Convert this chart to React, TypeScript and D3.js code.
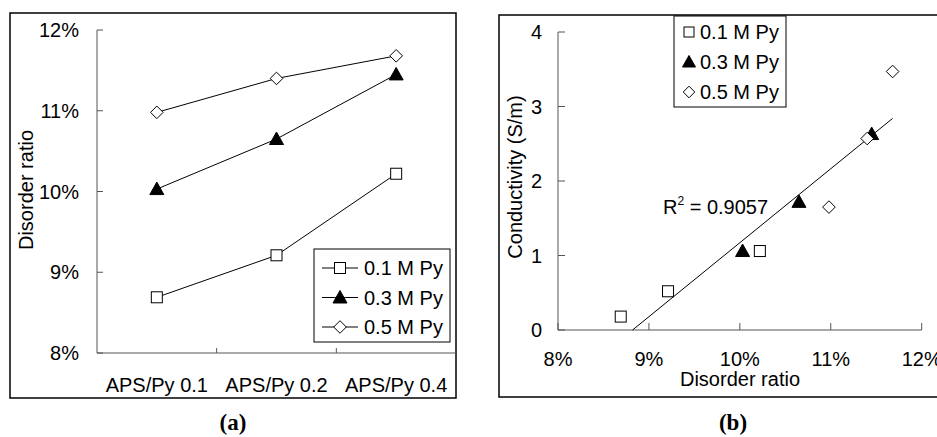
import React from 'react';
import * as d3 from 'd3';

// panel (a): disorder ratio per APS/Py ratio
const categories = ['APS/Py 0.1', 'APS/Py 0.2', 'APS/Py 0.4'];
const seriesNames = ['0.1 M Py', '0.3 M Py', '0.5 M Py'];
const disorder01 = [0.0869, 0.0921, 0.1022];
const disorder03 = [0.1003, 0.1065, 0.1145];
const disorder05 = [0.1098, 0.1140, 0.1168];
const yTicksA = [0.08, 0.09, 0.10, 0.11, 0.12];

// panel (b): conductivity vs disorder ratio
const cond01 = [0.18, 0.52, 1.06];
const cond03 = [1.06, 1.72, 2.63];
const cond05 = [1.65, 2.57, 3.47];
const xTicksB = [0.08, 0.09, 0.10, 0.11, 0.12];
const yTicksB = [0, 1, 2, 3, 4];
const trendX = [0.0882, 0.1168];
const trendY = [0, 2.84];
const r2Label = '0.9057';

const FONT = 'Arial, "Liberation Sans", Helvetica, sans-serif';
const SERIF = '"Liberation Serif", "DejaVu Serif", serif';
const shapes = ['square', 'triangle', 'diamond'];

function Marker({ shape, x, y, s = 11 }: { shape: string; x: number; y: number; s?: number }) {
  const h = s / 2;
  if (shape === 'square') {
    return <rect x={x - h} y={y - h} width={s} height={s} fill="#fff" stroke="#000" strokeWidth={1} />;
  }
  if (shape === 'triangle') {
    const p = `M${x},${y - h - 1.5}L${x + h + 1.5},${y + h}L${x - h - 1.5},${y + h}Z`;
    return <path d={p} fill="#000" stroke="#000" strokeWidth={1} />;
  }
  const d = h + 0.8;
  const p = `M${x},${y - d}L${x + d},${y}L${x},${y + d}L${x - d},${y}Z`;
  return <path d={p} fill="#fff" stroke="#000" strokeWidth={1} />;
}

function PanelA() {
  const x = d3.scaleBand().domain(categories).range([97, 456]);
  const y = d3.scaleLinear().domain([0.08, 0.12]).range([353, 30]);
  const fmt = d3.format('.0%');
  const cx = (c: string) => (x(c) as number) + x.bandwidth() / 2;
  const all = [disorder01, disorder03, disorder05];
  const line = d3.line<number>().x((_, i) => cx(categories[i])).y(d => y(d));

  return (
    <g>
      <rect x={10} y={13} width={446} height={385} fill="none" stroke="#000" strokeWidth={1.5} />
      {/* axes */}
      <line x1={97} x2={97} y1={y(0.12)} y2={y(0.08)} stroke="#555" />
      <line x1={97} x2={456} y1={y(0.08)} y2={y(0.08)} stroke="#555" />
      {yTicksA.map(t => (
        <g key={t}>
          <line x1={97} x2={103} y1={y(t)} y2={y(t)} stroke="#555" />
          <text x={79} y={y(t) + 7} textAnchor="end" fontSize={20} fontFamily={FONT} fill="#000">{fmt(t)}</text>
        </g>
      ))}
      {categories.slice(1).map(c => (
        <line key={c} x1={x(c)} x2={x(c)} y1={y(0.08)} y2={y(0.08) - 5} stroke="#555" />
      ))}
      {categories.map(c => (
        <text key={c} x={cx(c)} y={392} textAnchor="middle" fontSize={20} fontFamily={FONT} fill="#000">{c}</text>
      ))}
      <text transform={`translate(33,190) rotate(-90)`} textAnchor="middle" fontSize={20} fontFamily={FONT} fill="#000">Disorder ratio</text>

      {all.map((s, k) => (
        <g key={k}>
          <path d={line(s) as string} fill="none" stroke="#000" strokeWidth={1} />
          {s.map((v, i) => <Marker key={i} shape={shapes[k]} x={cx(categories[i])} y={y(v)} />)}
        </g>
      ))}

      {/* legend */}
      <rect x={314} y={249} width={136} height={93} fill="#fff" stroke="#000" strokeWidth={1} />
      {seriesNames.map((n, k) => {
        const ly = 268 + k * 29.5;
        return (
          <g key={n}>
            <line x1={322} x2={358} y1={ly} y2={ly} stroke="#000" />
            <Marker shape={shapes[k]} x={340} y={ly} />
            <text x={364} y={ly + 7} fontSize={20} fontFamily={FONT} fill="#000">{n}</text>
          </g>
        );
      })}
      <text x={233} y={430} textAnchor="middle" fontSize={23} fontWeight="bold" fontFamily={SERIF}>(a)</text>
    </g>
  );
}

function PanelB() {
  const x = d3.scaleLinear().domain([0.08, 0.12]).range([558, 921.7]);
  const y = d3.scaleLinear().domain([0, 4]).range([330, 32]);
  const fmt = d3.format('.0%');
  const conds = [cond01, cond03, cond05];
  const disorders = [disorder01, disorder03, disorder05];

  return (
    <g>
      <rect x={499} y={15} width={460} height={382} fill="none" stroke="#000" strokeWidth={1.5} />
      <line x1={558} x2={558} y1={y(4)} y2={y(0)} stroke="#555" />
      <line x1={558} x2={x(0.12)} y1={y(0)} y2={y(0)} stroke="#555" />
      {yTicksB.map(t => (
        <g key={t}>
          <line x1={558} x2={565} y1={y(t)} y2={y(t)} stroke="#555" />
          <text x={542} y={y(t) + 7} textAnchor="end" fontSize={20} fontFamily={FONT} fill="#000">{t}</text>
        </g>
      ))}
      {xTicksB.map(t => (
        <g key={t}>
          <line x1={x(t)} x2={x(t)} y1={y(0)} y2={y(0) - 7} stroke="#555" />
          <text x={x(t)} y={366} textAnchor="middle" fontSize={20} fontFamily={FONT} fill="#000">{fmt(t)}</text>
        </g>
      ))}
      <text x={740} y={386} textAnchor="middle" fontSize={20} fontFamily={FONT} fill="#000">Disorder ratio</text>
      <text transform={`translate(522,177) rotate(-90)`} textAnchor="middle" fontSize={20} fontFamily={FONT} fill="#000">Conductivity (S/m)</text>

      <line x1={x(trendX[0])} x2={x(trendX[1])} y1={y(trendY[0])} y2={y(trendY[1])} stroke="#000" strokeWidth={1} />
      {conds.map((s, k) => (
        <g key={k}>
          {s.map((v, i) => <Marker key={i} shape={shapes[k]} x={x(disorders[k][i])} y={y(v)} />)}
        </g>
      ))}
      <text x={663} y={214} fontSize={20} fontFamily={FONT} fill="#000">
        R<tspan fontSize={12} dy={-9}>2</tspan><tspan dy={9}> = {r2Label}</tspan>
      </text>

      <rect x={674} y={16} width={112} height={91} fill="#fff" stroke="#000" strokeWidth={1} />
      {seriesNames.map((n, k) => {
        const ly = 32 + k * 30;
        return (
          <g key={n}>
            <Marker shape={shapes[k]} x={689} y={ly} s={10} />
            <text x={700} y={ly + 7} fontSize={20} fontFamily={FONT} fill="#000">{n}</text>
          </g>
        );
      })}
      <text x={733} y={430} textAnchor="middle" fontSize={23} fontWeight="bold" fontFamily={SERIF}>(b)</text>
    </g>
  );
}

export default function App() {
  return (
    <svg width={937} height={437} style={{ position: 'absolute', left: 0, top: 0, background: '#fff' }}>
      <rect width={937} height={437} fill="#fff" />
      <PanelA />
      <PanelB />
    </svg>
  );
}
